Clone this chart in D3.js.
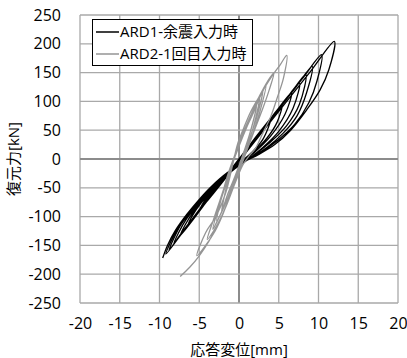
<!DOCTYPE html>
<html>
<head>
<meta charset="utf-8">
<script src="https://cdn.jsdelivr.net/npm/d3@7"></script>
<style>
  body { margin: 0; background: #fff; }
  text { font-family: "Open Sans", "Noto Sans CJK JP", sans-serif; }
</style>
</head>
<body>
<div id="chart"></div>
<script>
// axis settings
const xTicks = [-20, -15, -10, -5, 0, 5, 10, 15, 20];
const yTicks = [-250, -200, -150, -100, -50, 0, 50, 100, 150, 200, 250];
const xTitle = "応答変位[mm]";
const yTitle = "復元力[kN]";
const seriesNames = ["ARD1-余震入力時", "ARD2-1回目入力時"];

// ARD1 (black) - displacement [mm], force [kN]
const ard1 = [
  [-9.6,-172],[-9.0,-150],[-8.0,-124],[-6.5,-95],[-5,-70],[-3.5,-48],[-1.5,-24],[0.5,-6],[2.5,8],[4.5,25],[6.5,50],[8.5,85],[10.2,120],[11.3,155],[12.0,204],
  [9,152],[6,100],[3,48],[0,-4],[-3,-56],[-6,-107],[-9.2,-165],
  [-8.6,-144],[-7.6,-118],[-6,-88],[-4.5,-64],[-3,-44],[-1,-20],[1,-2],[3,14],[5,34],[7,60],[8.8,98],[9.8,135],[10.4,181],
  [8,140],[5,88],[2,36],[-1,-20],[-4,-72],[-7,-124],[-8.8,-158],
  [-8.2,-138],[-7.2,-112],[-5.6,-84],[-4,-60],[-2.5,-38],[-0.5,-14],[1.5,2],[3.5,20],[5.5,44],[7.3,75],[8.5,115],[9.2,161],
  [7,122],[4,70],[1,18],[-2,-36],[-5,-88],[-8.2,-147],
  [-7.6,-128],[-6.6,-104],[-5,-77],[-3.5,-54],[-2,-33],[0,-10],[2,8],[4,30],[6,58],[7.6,95],[8.4,147],
  [6,104],[3,52],[0,0],[-3,-54],[-7.4,-133],
  [-6.8,-115],[-5.8,-93],[-4.3,-68],[-3,-48],[-1,-22],[1,-2],[3,20],[5,48],[6.8,88],[7.6,132],
  [5,86],[2,34],[-1,-18],[-4,-70],[-6.4,-114],
  [-5.8,-97],[-4.8,-77],[-3.4,-55],[-2,-35],[0,-10],[2,12],[4,40],[5.8,78],[6.6,115],
  [4,70],[1,16],[-2,-36],[-5,-90],
  [-4.4,-74],[-3.3,-55],[-2,-36],[-0.5,-14],[1.5,8],[3.5,36],[4.8,64],[5.4,94],
  [3,52],[0,0],[-3.6,-65],
  [-2.8,-48],[-1.5,-28],[0,-8],[1.5,10],[3,34],[4,70],[2,34],[0,-2]
];

// ARD2 (gray)
const ard2 = [
  [-7.4,-204],[-6.2,-188],[-5,-168],[-3.8,-143],[-2.6,-112],[-1.5,-78],[-0.5,-42],[0.5,-10],[1.3,6],[2.1,19],[2.9,42],[4,74],[4.8,106],[5.6,141],[6.0,180],
  [5.2,164],[4,141],[2.7,112],[1.5,83],[0.6,54],[-0.2,25],[-0.8,-10],[-1.7,-60],[-2.9,-100],[-4.2,-128],[-5.3,-168],
  [-4.2,-150],[-3,-125],[-2,-95],[-1,-58],[0,-22],[1,15],[2,52],[3,88],[3.8,120],[4.4,150],
  [3.6,135],[2.6,110],[1.6,80],[0.6,48],[-0.4,12],[-1.4,-30],[-2.4,-72],[-3.2,-105],[-4.0,-140],
  [-3.2,-125],[-2.2,-100],[-1.2,-66],[-0.2,-30],[0.8,8],[1.8,46],[2.7,86],[3.4,128],
  [2.8,112],[1.8,84],[0.8,52],[-0.2,16],[-1.2,-25],[-2.2,-68],[-3.3,-122],
  [-2.6,-104],[-1.6,-74],[-0.6,-38],[0.4,0],[1.4,38],[2.3,76],[3.0,118],
  [2.4,100],[1.4,72],[0.4,40],[-0.6,4],[-1.6,-36],[-2.8,-108],
  [-2,-86],[-1,-54],[0,-18],[1,20],[1.9,60],[2.6,106],
  [2,86],[1,56],[0,22],[-1,-16],[-2.2,-92],
  [-1.5,-64],[-0.5,-30],[0.5,8],[1.4,46],[2.2,92],
  [1.6,74],[0.6,44],[-0.4,10],[-1.4,-30]
];

const W = 407, H = 358;
const margin = {top: 15, right: 9, bottom: 55, left: 80};
const width = W - margin.left - margin.right;
const height = H - margin.top - margin.bottom;

const svg = d3.select("#chart").append("svg")
    .attr("width", W)
    .attr("height", H);

const x = d3.scaleLinear().domain([-20, 20]).range([margin.left, margin.left + width]);
const y = d3.scaleLinear().domain([-250, 250]).range([margin.top + height, margin.top]);

// grid
const grid = svg.append("g");
grid.selectAll("line.vx").data(xTicks).enter().append("line")
    .attr("x1", d => x(d)).attr("x2", d => x(d))
    .attr("y1", y(-250)).attr("y2", y(250))
    .attr("stroke", d => d === 0 ? "#8c8c8c" : "#a9a9a9")
    .attr("stroke-width", d => d === 0 ? 2 : 1.3);
grid.selectAll("line.hy").data(yTicks).enter().append("line")
    .attr("x1", x(-20)).attr("x2", x(20))
    .attr("y1", d => y(d)).attr("y2", d => y(d))
    .attr("stroke", d => d === 0 ? "#8c8c8c" : "#a9a9a9")
    .attr("stroke-width", d => d === 0 ? 2 : 1.3);

// tick labels via axes (plain hyphen for minus, like the original)
const fmt = d => String(d);
const xAxis = svg.append("g")
    .attr("transform", "translate(0," + (y(-250) + 12) + ")")
    .call(d3.axisBottom(x).tickValues(xTicks).tickSize(0).tickFormat(fmt));
xAxis.select(".domain").remove();
xAxis.selectAll("text").attr("font-size", 16).attr("fill", "#000")
    .attr("font-family", "'Open Sans', sans-serif");

const yAxis = svg.append("g")
    .attr("transform", "translate(" + (x(-20) - 16) + ",0)")
    .call(d3.axisLeft(y).tickValues(yTicks).tickSize(0).tickFormat(fmt));
yAxis.select(".domain").remove();
yAxis.selectAll("text").attr("font-size", 16).attr("fill", "#000")
    .attr("font-family", "'Open Sans', sans-serif");

// titles
svg.append("text")
    .attr("x", x(0)).attr("y", 355)
    .attr("text-anchor", "middle")
    .attr("font-size", 15)
    .text(xTitle);
svg.append("text")
    .attr("transform", "translate(19," + y(0) + ") rotate(-90)")
    .attr("text-anchor", "middle")
    .attr("font-size", 15)
    .text(yTitle);

// series
const line = d3.line()
    .x(d => x(d[0]))
    .y(d => y(d[1]))
    .curve(d3.curveCatmullRom.alpha(0.5));

svg.append("clipPath").attr("id", "plotclip")
    .append("rect")
    .attr("x", x(-20)).attr("y", y(250))
    .attr("width", width).attr("height", height);

const colors = ["#000000", "#959595"];
[ard1, ard2].forEach((pts, i) => {
    svg.append("path")
        .datum(pts)
        .attr("clip-path", "url(#plotclip)")
        .attr("fill", "none")
        .attr("stroke", colors[i])
        .attr("stroke-width", 1.3)
        .attr("stroke-linejoin", "round")
        .attr("d", line);
});

// legend
const lg = svg.append("g");
lg.append("rect")
    .attr("x", 92.5).attr("y", 19.5)
    .attr("width", 160).attr("height", 46)
    .attr("fill", "#fff")
    .attr("stroke", "#000")
    .attr("stroke-width", 1);
seriesNames.forEach((name, i) => {
    const cy = 32 + i * 22;
    lg.append("line")
        .attr("x1", 96).attr("x2", 119)
        .attr("y1", cy).attr("y2", cy)
        .attr("stroke", colors[i])
        .attr("stroke-width", 1.5);
    lg.append("text")
        .attr("x", 120).attr("y", cy)
        .attr("dy", "0.35em")
        .attr("font-size", 15)
        .text(name);
});
</script>
</body>
</html>
